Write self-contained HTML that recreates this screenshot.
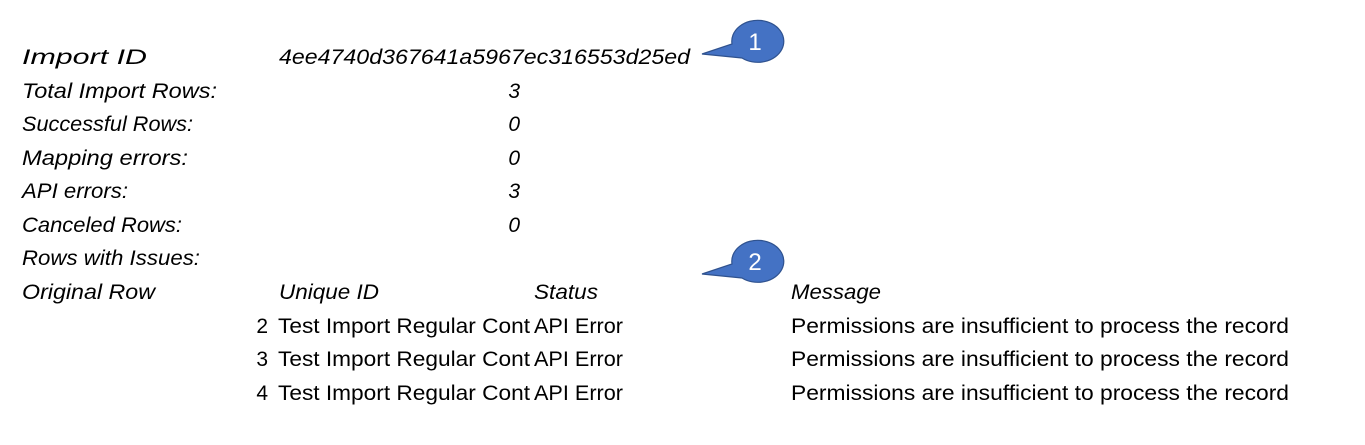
<!DOCTYPE html>
<html><head><meta charset="utf-8"><style>
html,body{margin:0;padding:0;background:#fff;width:1365px;height:445px;overflow:hidden}
svg{display:block}
text{font-family:"Liberation Sans",sans-serif;font-size:21px;fill:#000}
.i{font-style:italic}
</style></head><body>
<svg width="1365" height="445" viewBox="0 0 1365 445">
<g class="i">
<text x="22" y="64" class="i" textLength="125" lengthAdjust="spacingAndGlyphs">Import ID</text>
<text x="279" y="64" class="i" textLength="411" lengthAdjust="spacingAndGlyphs">4ee4740d367641a5967ec316553d25ed</text>
<text x="22" y="98" class="i" textLength="195" lengthAdjust="spacingAndGlyphs">Total Import Rows:</text>
<text x="22" y="131" class="i" textLength="171" lengthAdjust="spacingAndGlyphs">Successful Rows:</text>
<text x="22" y="165" class="i" textLength="166" lengthAdjust="spacingAndGlyphs">Mapping errors:</text>
<text x="22" y="198" class="i" textLength="106" lengthAdjust="spacingAndGlyphs">API errors:</text>
<text x="22" y="232" class="i" textLength="160" lengthAdjust="spacingAndGlyphs">Canceled Rows:</text>
<text x="22" y="265" class="i" textLength="178" lengthAdjust="spacingAndGlyphs">Rows with Issues:</text>
<text x="22" y="299" class="i" textLength="133" lengthAdjust="spacingAndGlyphs">Original Row</text>
<text x="279" y="299" class="i" textLength="100" lengthAdjust="spacingAndGlyphs">Unique ID</text>
<text x="534" y="299" class="i" textLength="64" lengthAdjust="spacingAndGlyphs">Status</text>
<text x="791" y="299" class="i" textLength="90" lengthAdjust="spacingAndGlyphs">Message</text>
<text x="520" y="98" class="i" text-anchor="end">3</text>
<text x="520" y="131" class="i" text-anchor="end">0</text>
<text x="520" y="165" class="i" text-anchor="end">0</text>
<text x="520" y="198" class="i" text-anchor="end">3</text>
<text x="520" y="232" class="i" text-anchor="end">0</text>
</g>
<g>
<text x="268" y="333" text-anchor="end">2</text>
<text x="278" y="333" textLength="252" lengthAdjust="spacingAndGlyphs">Test Import Regular Cont</text>
<text x="534" y="333" textLength="89" lengthAdjust="spacingAndGlyphs">API Error</text>
<text x="791" y="333" textLength="498" lengthAdjust="spacingAndGlyphs">Permissions are insufficient to process the record</text>
<text x="268" y="366" text-anchor="end">3</text>
<text x="278" y="366" textLength="252" lengthAdjust="spacingAndGlyphs">Test Import Regular Cont</text>
<text x="534" y="366" textLength="89" lengthAdjust="spacingAndGlyphs">API Error</text>
<text x="791" y="366" textLength="498" lengthAdjust="spacingAndGlyphs">Permissions are insufficient to process the record</text>
<text x="268" y="400" text-anchor="end">4</text>
<text x="278" y="400" textLength="252" lengthAdjust="spacingAndGlyphs">Test Import Regular Cont</text>
<text x="534" y="400" textLength="89" lengthAdjust="spacingAndGlyphs">API Error</text>
<text x="791" y="400" textLength="498" lengthAdjust="spacingAndGlyphs">Permissions are insufficient to process the record</text>
</g>
<g fill="#4472c4" stroke="#2f528f" stroke-width="1.2">
<path d="M702,54 L732,44 A26,21 0 1,1 742,58 Z"/>
<path d="M702,274 L732,264 A26,21 0 1,1 742,278 Z"/>
</g>
<text x="755" y="50" text-anchor="middle" style="fill:#fff;font-size:24px">1</text>
<text x="755" y="270" text-anchor="middle" style="fill:#fff;font-size:24px">2</text>
</svg>
</body></html>
